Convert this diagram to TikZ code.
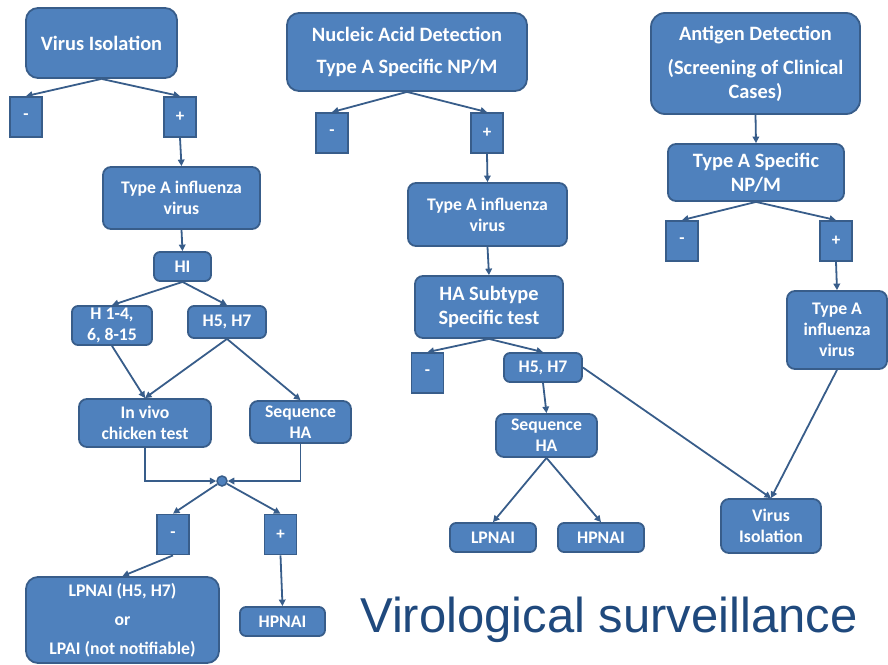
\documentclass[tikz,border=0pt]{standalone}
\usepackage{fontspec}
\setmainfont{Carlito}
\newfontfamily\titlefont{Liberation Sans}
\usetikzlibrary{arrows.meta}
\definecolor{boxfill}{HTML}{4F81BD}
\definecolor{boxline}{HTML}{385D8A}
\definecolor{titleblue}{HTML}{1F497D}
\tikzset{
  x=1pt, y=-1pt,
  box/.style={draw=boxline, fill=boxfill, line width=1.8pt, rounded corners=#1,
    text=white, font=\bfseries\fontsize{17.7}{21}\selectfont, align=center,
    inner sep=0pt},
  box/.default=8pt,
  sz/.style 2 args={minimum width=#1pt, minimum height=#2pt},
  sign/.style={draw=boxline, fill=boxfill, line width=1.8pt, text=white,
    font=\bfseries\fontsize{17}{20}\selectfont, inner sep=0pt,
    minimum width=32pt, minimum height=40pt},
  big/.style={font=\bfseries\fontsize{20.4}{24}\selectfont},
  link/.style={draw=boxline, line width=1.8pt,
    -{Triangle[length=6.5pt,width=6.5pt]}},
}
\begin{document}
\begin{tikzpicture}
\useasboundingbox (0,0) rectangle (888,664);

% ---------- Virus isolation branch ----------
\node[box=12pt, big, sz={151}{70}] (vi) at (101.5,43) {Virus Isolation};
\node[sign] (m1) at (26,117) {-};
\node[sign] (p1) at (180,117) {+};
\node[box, sz={157}{62}] (ta1) at (181.5,198) {Type A influenza\\virus};
\node[box=6pt, sz={57}{29}] (hi) at (182.5,266.5) {HI};
\node[box=6pt, sz={80}{39}] (h14) at (112,325.5) {H 1-4,\\6, 8-15};
\node[box=6pt, sz={78}{32}] (h57) at (227,322) {H5, H7};
\node[box, sz={132}{48}] (iv) at (145,423) {In vivo\\chicken test};
\node[box, sz={101}{42}] (sq1) at (300.5,422) {Sequence\\HA};
\node[circle, draw=boxline, fill=boxfill, line width=1.5pt, minimum size=10pt, inner sep=0pt] (j) at (222,481) {};
\node[sign] (m2) at (173,534.5) {-};
\node[sign] (p2) at (280.5,534.5) {+};
\node[box=12pt, sz={193}{86}] (lp) at (122.5,620) {LPNAI (H5, H7)\\[8pt]or\\[8pt]LPAI (not notifiable)};
\node[box=6pt, sz={85}{29}] (hp) at (282.5,621.5) {HPNAI};

\draw[link] (vi.south) -- (m1.north);
\draw[link] (vi.south) -- (p1.north);
\draw[link] (p1.south) -- (ta1.north);
\draw[link] (ta1.south) -- (hi.north);
\draw[link] (hi.south) -- (h14.north);
\draw[link] (hi.south) -- (h57.north);
\draw[link] (h14.south) -- (iv.north);
\draw[link] (h57.south) -- (iv.north);
\draw[link] (h57.south) -- (sq1.north);
\draw[link] (iv.south) |- (j.west);
\draw[link] (sq1.south) |- (j.east);
\draw[link] (j) -- (m2.north);
\draw[link] (j) -- (p2.north);
\draw[link] (m2.south) -- (lp.north);
\draw[link] (p2.south) -- (hp.north);

% ---------- Nucleic acid detection branch ----------
\node[box=12pt, big, sz={240}{78}] (nad) at (407,52) {Nucleic Acid Detection\\[8pt]Type A Specific NP/M};
\node[sign] (m3) at (332,133) {-};
\node[sign] (p3) at (487,133) {+};
\node[box, sz={159}{63}] (ta2) at (487.5,214.5) {Type A influenza\\virus};
\node[box, big, sz={148}{62}] (has) at (489,307) {HA Subtype\\Specific test};
\node[sign] (m4) at (427.5,373) {-};
\node[box=6pt, sz={78}{29}] (h57b) at (543,367.5) {H5, H7};
\node[box, sz={101}{43}] (sq2) at (546.5,435.5) {Sequence\\HA};
\node[box=6pt, sz={86}{29}] (lp2) at (493,537.5) {LPNAI};
\node[box=6pt, sz={86}{29}] (hp2) at (601,537.5) {HPNAI};

\draw[link] (nad.south) -- (m3.north);
\draw[link] (nad.south) -- (p3.north);
\draw[link] (p3.south) -- (ta2.north);
\draw[link] (ta2.south) -- (has.north);
\draw[link] (has.south) -- (m4.north);
\draw[link] (has.south) -- (h57b.north);
\draw[link] (h57b.south) -- (sq2.north);
\draw[link] (sq2.south) -- (lp2.north);
\draw[link] (sq2.south) -- (hp2.north);

% ---------- Antigen detection branch ----------
\node[box=14pt, big, sz={209}{101}] (ag) at (755.5,63.5) {Antigen Detection\\[10pt](Screening of Clinical\\Cases)};
\node[box, big, sz={176}{57}] (tas) at (756,172.5) {Type A Specific\\NP/M};
\node[sign] (m5) at (682,241) {-};
\node[sign] (p5) at (836,241) {+};
\node[box, sz={100}{78}] (ta3) at (837,330) {Type A\\influenza\\virus};
\node[box, sz={100}{54}] (vi3) at (771,526) {Virus\\Isolation};

\draw[link] (ag.south) -- (tas.north);
\draw[link] (tas.south) -- (m5.north);
\draw[link] (tas.south) -- (p5.north);
\draw[link] (p5.south) -- (ta3.north);
\draw[link] (ta3.south) -- (vi3.north);
\draw[link] (h57b.east) -- (vi3.north);

% ---------- Caption ----------
\node[anchor=base west, inner sep=0pt, text=titleblue, font=\titlefont\fontsize{49}{56}\selectfont] (cap) at (360,632) {Virological surveillance};
\end{tikzpicture}
\end{document}
